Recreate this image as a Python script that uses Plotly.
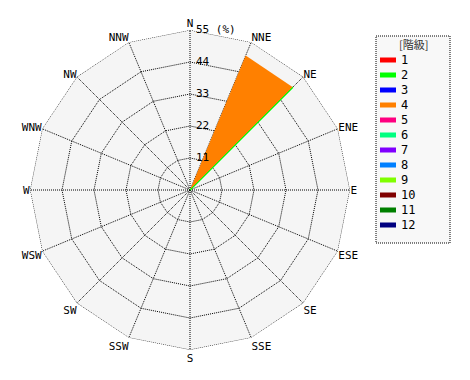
import plotly.graph_objects as go

directions = ["N", "NNE", "NE", "ENE", "E", "ESE", "SE", "SSE",
              "S", "SSW", "SW", "WSW", "W", "WNW", "NW", "NNW"]
classes = ["1", "2", "3", "4", "5", "6", "7", "8", "9", "10", "11", "12"]
colors = ["#FF0000", "#00FF00", "#0000FF", "#FF8000", "#FF0080", "#00FF80",
          "#8000FF", "#0080FF", "#80FF00", "#800000", "#008000", "#000080"]
# frequency (%) per class per direction
class4_values = [0, 50, 0, 0, 0, 0, 0, 0, 0, 0, 0, 0, 0, 0, 0, 0]
class2_values = [0, 50, 0, 0, 0, 0, 0, 0, 0, 0, 0, 0, 0, 0, 0, 0]
radial_ticks = [0, 11, 22, 33, 44, 55]
radial_ticktext = ["0", "11", "22", "33", "44", "55 (%)"]
r_max = 55

FONT = "DejaVu Sans Mono, Liberation Mono, monospace"
CJK = "Noto Sans CJK JP"
DOT = "1px,1px"

n = len(directions)


def sector_polygons(values):
    """Each direction's sector runs from its own spoke to the next spoke."""
    rr, tt = [], []
    for i, v in enumerate(values):
        if v > 0:
            a, b = directions[i], directions[(i + 1) % n]
            rr += [0, v, v, 0, None]
            tt += [a, a, b, b, None]
    return rr, tt


def sector_edges(values):
    """Clockwise edge of each sector (spoke of the next direction)."""
    rr, tt = [], []
    for i, v in enumerate(values):
        if v > 0:
            b = directions[(i + 1) % n]
            rr += [0, v, None]
            tt += [b, b, None]
    return rr, tt


fig = go.Figure()

# class 2: thin edge line
r2, t2 = sector_edges(class2_values)
fig.add_trace(go.Scatterpolar(
    r=r2, theta=t2, mode="lines", line=dict(color=colors[1], width=1.5),
    showlegend=False, hoverinfo="skip"))

# class 4: filled sector
r4, t4 = sector_polygons(class4_values)
fig.add_trace(go.Scatterpolar(
    r=r4, theta=t4, mode="lines", fill="toself", fillcolor=colors[3],
    line=dict(width=0, color=colors[3]),
    showlegend=False, hoverinfo="skip"))

# re-draw the class 2 edge on top of the fill
fig.add_trace(go.Scatterpolar(
    r=r2, theta=t2, mode="lines", line=dict(color=colors[1], width=1),
    showlegend=False, hoverinfo="skip"))

# dotted outer frame at the radial maximum
fig.add_trace(go.Scatterpolar(
    r=[r_max] * (n + 1), theta=directions + directions[:1],
    mode="lines", line=dict(color="black", width=1, dash=DOT),
    showlegend=False, hoverinfo="skip"))

# radial tick labels along the N spoke, upright
fig.add_trace(go.Scatterpolar(
    r=radial_ticks, theta=[directions[0]] * len(radial_ticks),
    mode="markers+text", text=radial_ticktext, textposition="middle right",
    marker=dict(size=8, color="rgba(0,0,0,0)"),
    textfont=dict(family=FONT, size=11, color="black"),
    showlegend=False, hoverinfo="skip", cliponaxis=False))

# center dot
fig.add_trace(go.Scatterpolar(
    r=[0], theta=[directions[0]], mode="markers",
    marker=dict(color="black", size=5),
    showlegend=False, hoverinfo="skip", cliponaxis=False))

# manual legend (box, title, swatches, labels)
W, H = 470, 380
box = dict(x0=376, x1=450, y0=36, y1=243)
shapes = [dict(type="rect", xref="paper", yref="paper",
               x0=box["x0"]/W, x1=box["x1"]/W,
               y0=1 - box["y1"]/H, y1=1 - box["y0"]/H,
               line=dict(color="black", width=1, dash=DOT),
               fillcolor="#F8F8F8", layer="below")]
annotations = [dict(text="[階級]", x=(box["x0"] + box["x1"]) / 2 / W,
                    y=1 - 44/H, xref="paper", yref="paper",
                    xanchor="center", yanchor="middle", showarrow=False,
                    font=dict(family=CJK, size=11, color="#333333"))]
for i, (name, col) in enumerate(zip(classes, colors)):
    yc = 60 + 15 * i
    shapes.append(dict(type="line", xref="paper", yref="paper",
                       x0=380/W, x1=396/W, y0=1 - yc/H, y1=1 - yc/H,
                       line=dict(color=col, width=5)))
    annotations.append(dict(text=name, x=399/W, y=1 - yc/H,
                            xref="paper", yref="paper",
                            xanchor="left", yanchor="middle",
                            showarrow=False,
                            font=dict(family=FONT, size=12, color="black")))

fig.update_layout(
    width=W, height=H,
    margin=dict(l=0, r=0, t=0, b=0),
    paper_bgcolor="white",
    showlegend=False,
    font=dict(family=FONT, size=11, color="black"),
    polar=dict(
        domain=dict(x=[30/W, 350/W], y=[30/H, 350/H]),
        bgcolor="#F5F5F5",
        gridshape="linear",
        angularaxis=dict(
            type="category", categoryarray=directions,
            direction="clockwise", rotation=90,
            showline=False, layer="above traces",
            showgrid=True, gridcolor="black", griddash=DOT, gridwidth=1,
            ticks="", tickfont=dict(size=11, family=FONT)),
        radialaxis=dict(
            range=[0, r_max], tickvals=radial_ticks,
            angle=90, showline=False, ticks="", showticklabels=False,
            layer="above traces",
            showgrid=True, gridcolor="black", griddash=DOT, gridwidth=1),
    ),
    shapes=shapes,
    annotations=annotations,
)

fig.write_html("out.html")
